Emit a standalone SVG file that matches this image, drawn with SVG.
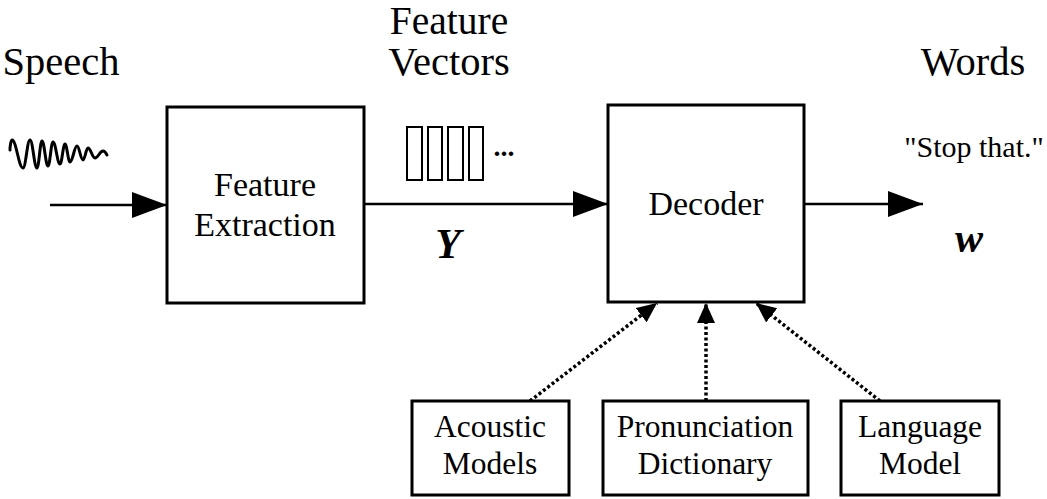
<svg xmlns="http://www.w3.org/2000/svg" width="1047" height="499" viewBox="0 0 1047 499">
<style>
  .box { fill: #ffffff; stroke: #000000; stroke-width: 3; }
  .fv { fill: #ffffff; stroke: #000000; stroke-width: 2; }
  .t { font-family: "Liberation Serif", "Times New Roman", serif; fill: #000000; text-anchor: middle; }
  .big { font-size: 40.5px; }
  .mid { font-size: 34px; }
  .small { font-size: 31.5px; }
  .sym { font-size: 42px; font-weight: bold; font-style: italic; }
  .solid { stroke: #000000; stroke-width: 2.5; fill: none; }
  .dotted { stroke: #000000; stroke-width: 3.5; stroke-dasharray: 3 2.5; fill: none; }
</style>
<defs>
  <marker id="bigArrow" markerUnits="userSpaceOnUse" markerWidth="36" markerHeight="28" refX="35" refY="13" orient="auto">
    <path d="M0,0 L35,13 L0,26 Z" fill="#000000"/>
  </marker>
  <marker id="smallArrow" markerUnits="userSpaceOnUse" markerWidth="22" markerHeight="20" refX="20" refY="9" orient="auto">
    <path d="M0,0 L20,9 L0,18 Z" fill="#000000"/>
  </marker>
</defs>
<rect width="1047" height="499" fill="#ffffff"/>

<g id="labels">
  <text class="t big" x="61" y="75">Speech</text>
  <text class="t big" x="449" y="34" style="font-size:39.5px">Feature</text>
  <text class="t big" x="449" y="75">Vectors</text>
  <text class="t big" x="973" y="75">Words</text>
  <text class="t" x="974" y="157" style="font-size:30px">"Stop that."</text>
  <text class="t sym" x="448" y="258">Y</text>
  <text class="t sym" x="969" y="252">w</text>
</g>

<g id="speech-wave">
  <path d="M10,150 C10,146 11,140 12,140 C16.4,140 18.6,168 23,168 C25.8,168 27.2,140 30,140 C32.8,140 34.2,168 37,168 C39,168 40,141 42,141 C44.4,141 45.6,166 48,166 C50,166 51,142 53,142 C55.8,142 57.2,164 60,164 C62,164 63,144 65,144 C67,144 68,162 70,162 C72.8,162 74.2,146 77,146 C79.4,146 80.6,160 83,160 C85,160 86,148 88,148 C90.8,148 92.2,158 95,158 C98.2,158 99.8,151 103,151 C105,151 106,153 107,155" fill="none" stroke="#000000" stroke-width="3" stroke-linecap="round" stroke-linejoin="round"/>
</g>

<g id="feature-vectors">
  <rect class="fv" x="407" y="127" width="15" height="53"/>
  <rect class="fv" x="428" y="127" width="14" height="53"/>
  <rect class="fv" x="448" y="127" width="15" height="53"/>
  <rect class="fv" x="469" y="127" width="14" height="53"/>
  <text class="t" x="504" y="156" style="font-size:28px;font-weight:bold">...</text>
</g>

<g id="connectors">
  <line class="solid" x1="50" y1="205" x2="167" y2="205" marker-end="url(#bigArrow)"/>
  <line class="solid" x1="365" y1="204" x2="608" y2="204" marker-end="url(#bigArrow)"/>
  <line class="solid" x1="804" y1="204" x2="923" y2="204" marker-end="url(#bigArrow)"/>
  <line class="dotted" x1="530" y1="401" x2="657" y2="303" marker-end="url(#smallArrow)"/>
  <line class="dotted" x1="706" y1="401" x2="706" y2="303" marker-end="url(#smallArrow)"/>
  <line class="dotted" x1="880" y1="401" x2="756" y2="303" marker-end="url(#smallArrow)"/>
</g>

<g id="feature-extraction">
  <rect class="box" x="167" y="107" width="197" height="196"/>
  <text class="t mid" x="265" y="196">Feature</text>
  <text class="t mid" x="265" y="236">Extraction</text>
</g>

<g id="decoder">
  <rect class="box" x="608" y="105" width="196" height="197"/>
  <text class="t mid" x="706" y="215">Decoder</text>
</g>

<g id="acoustic-models">
  <rect class="box" x="412" y="401" width="157" height="94"/>
  <text class="t small" x="490" y="437">Acoustic</text>
  <text class="t small" x="490" y="474">Models</text>
</g>

<g id="pronunciation-dictionary">
  <rect class="box" x="603" y="401" width="205" height="94"/>
  <text class="t small" x="705" y="437">Pronunciation</text>
  <text class="t small" x="705" y="474">Dictionary</text>
</g>

<g id="language-model">
  <rect class="box" x="841" y="401" width="158" height="94"/>
  <text class="t small" x="920" y="437">Language</text>
  <text class="t small" x="920" y="474">Model</text>
</g>
</svg>
